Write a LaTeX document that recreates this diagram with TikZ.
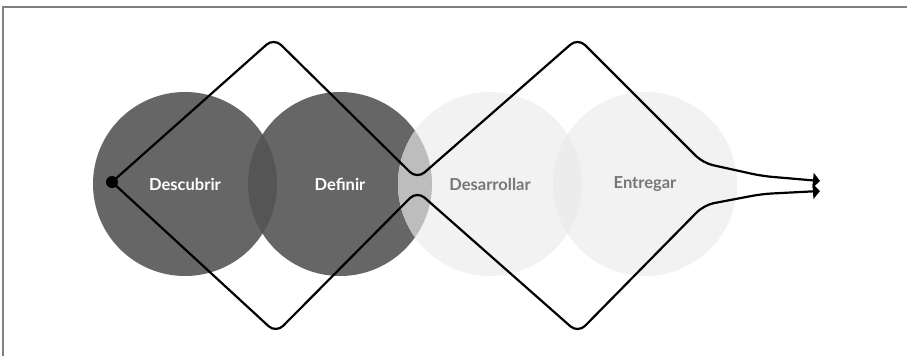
\documentclass[tikz,border=0pt]{standalone}
\usepackage{fontspec}
\setmainfont{Lato}
\usetikzlibrary{arrows.meta}

\definecolor{darkstage}{HTML}{666666}
\definecolor{darklens}{HTML}{555555}
\definecolor{lightstage}{HTML}{F2F2F2}
\definecolor{midlens}{HTML}{BDBDBD}
\definecolor{lightlens}{HTML}{ECECEC}
\definecolor{framegray}{HTML}{808080}
\definecolor{lighttext}{HTML}{777777}

\begin{document}
\begin{tikzpicture}[
  x=1pt, y=-1pt,
  stage/.style={circle, minimum size=184pt, inner sep=0pt,
                font=\fontsize{16.5}{19}\selectfont\bfseries},
  darkstage/.style={stage, fill=darkstage, text=white},
  lightstage/.style={stage, fill=lightstage, text=lighttext},
  zigzag/.style={line width=2.2pt, rounded corners=10pt,
                 -{Triangle[length=7pt,width=15pt]}}
]
\useasboundingbox (0,0) rectangle (907,356);

% frame
\draw[framegray, line width=1.5pt] (3,356) -- (3,7) -- (907,7);

% stages
\node[darkstage] (descubrir) at (185,184) {Descubrir};
\node[darkstage] (definir) at (340,184) {Definir};
\node[lightstage] (desarrollar) at (490,184) {Desarrollar};
\node[lightstage] (entregar) at (645,184) {Entregar};

% overlaps
\begin{scope}
  \clip (descubrir.center) circle (92);
  \fill[darklens] (definir.center) circle (92);
\end{scope}
\begin{scope}
  \clip (definir.center) circle (92);
  \fill[midlens] (desarrollar.center) circle (92);
\end{scope}
\begin{scope}
  \clip (desarrollar.center) circle (92);
  \fill[lightlens] (entregar.center) circle (92);
\end{scope}

% start point and ends
\node[circle, fill=black, minimum size=12pt, inner sep=0pt] (start) at (112,182) {};
\coordinate (endup) at (820,181);
\coordinate (enddown) at (820,191);

% double diamond
\draw[zigzag] (start.center) -- (274,38) -- (417,179) -- (578,38) -- (703,163)
  -- (762,176) [sharp corners] -- (endup);
\draw[zigzag] (start.center) -- (276,333) -- (417,191) -- (578,333) -- (704,205)
  -- (762,194) [sharp corners] -- (enddown);

\end{tikzpicture}
\end{document}
